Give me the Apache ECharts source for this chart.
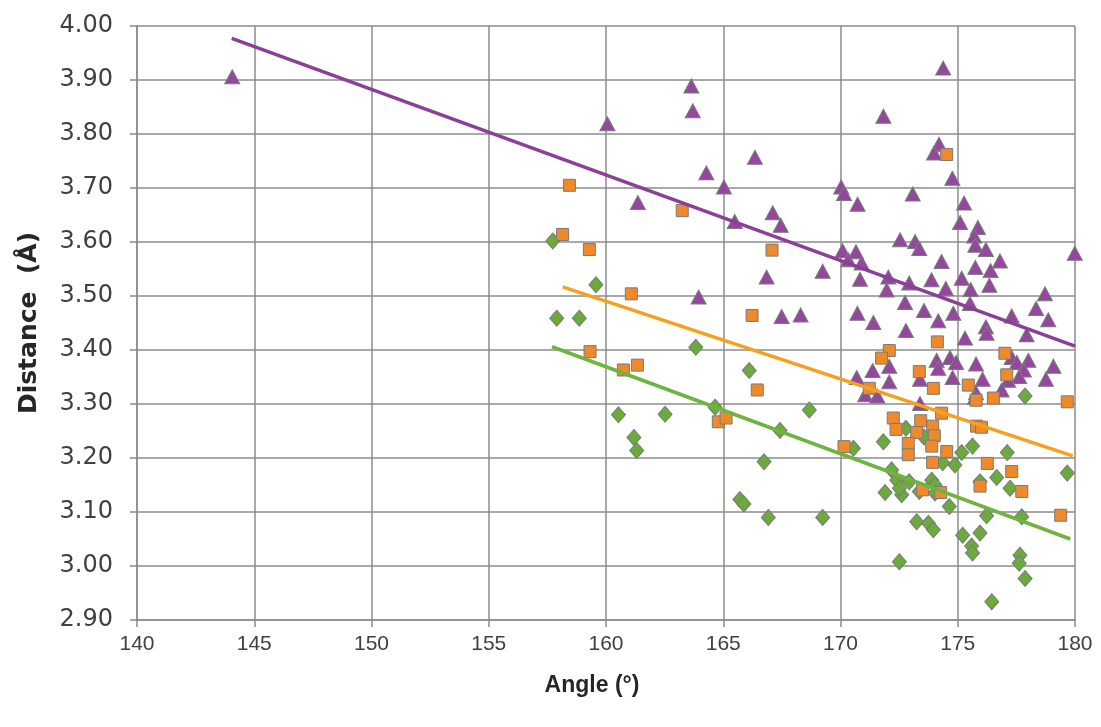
<!DOCTYPE html>
<html>
<head>
<meta charset="utf-8">
<script src="https://cdn.jsdelivr.net/npm/echarts@6/dist/echarts.min.js"></script>
<style>
  html, body { margin: 0; padding: 0; background: #fff; }
  #chart { width: 1101px; height: 727px; }
</style>
</head>
<body>
<div id="chart"></div>
<script>
// axis ranges
const xTicks = { min: 140, max: 180, step: 5 }
const yTicks = { min: 2.9, max: 4.0, step: 0.1 }

// purple triangles [angle, distance]
const triData = [
  [144.06,3.906],[160.06,3.819],[161.36,3.673],[163.64,3.889],[163.70,3.843],[163.95,3.498],
  [164.28,3.728],[165.03,3.702],[165.49,3.638],[166.35,3.757],[166.85,3.535],[167.11,3.654],
  [167.45,3.631],[167.49,3.462],[168.30,3.465],[169.24,3.546],
  [174.38,3.922],[171.83,3.833],[174.20,3.781],[173.99,3.765],[174.77,3.718],[170.03,3.702],
  [170.15,3.690],[170.73,3.670],[173.08,3.689],[175.27,3.672],[175.10,3.636],[175.86,3.627],
  [175.70,3.611],[175.75,3.594],[176.20,3.586],[176.80,3.565],[175.75,3.553],[176.40,3.547],
  [176.35,3.520],[179.99,3.579],[172.54,3.604],[173.18,3.601],[173.36,3.588],[170.09,3.584],
  [170.66,3.582],[170.33,3.567],[170.90,3.561],[170.83,3.531],[172.04,3.535],[171.97,3.511],
  [172.93,3.524],[173.88,3.530],[174.31,3.564],[174.49,3.514],[175.17,3.533],[175.55,3.512],
  [175.52,3.486],[172.75,3.488],[173.56,3.473],[170.72,3.468],[171.40,3.451],[174.17,3.454],
  [174.81,3.468],[177.30,3.463],[178.34,3.477],[178.72,3.504],[178.86,3.456],[172.79,3.436],
  [176.20,3.443],[177.94,3.428],[176.23,3.431],[175.31,3.422],[174.10,3.381],[174.67,3.386],
  [174.93,3.377],[174.17,3.366],[175.78,3.374],[177.30,3.386],[177.52,3.377],[178.01,3.381],
  [179.08,3.370],[177.82,3.363],[177.62,3.351],[177.15,3.344],[176.87,3.326],[176.06,3.346],
  [174.78,3.349],[175.78,3.321],[175.73,3.312],[173.39,3.346],[172.08,3.370],[172.08,3.341],
  [171.37,3.362],[170.69,3.349],[171.05,3.317],[171.57,3.315],[173.39,3.301],[178.76,3.346]
]

// orange squares
const sqData = [
  [158.44,3.705],[163.25,3.658],[158.15,3.614],[159.29,3.586],[167.08,3.585],[161.08,3.504],
  [166.23,3.464],[174.53,3.762],[159.32,3.397],[160.74,3.363],[161.34,3.372],[166.45,3.326],
  [164.79,3.267],[165.12,3.274],[174.13,3.415],[172.08,3.399],[171.75,3.385],[177.01,3.394],
  [173.36,3.360],[173.96,3.329],[175.45,3.335],[177.09,3.354],[176.52,3.311],[175.78,3.307],
  [179.67,3.304],[171.23,3.329],[174.31,3.283],[172.25,3.274],[172.37,3.253],[173.42,3.269],
  [173.93,3.259],[173.25,3.247],[174.00,3.241],[173.89,3.222],[172.89,3.227],[172.89,3.206],
  [174.53,3.212],[175.80,3.259],[176.01,3.257],[170.15,3.221],[173.93,3.192],[176.26,3.190],
  [177.30,3.175],[175.95,3.148],[177.73,3.138],[173.50,3.141],[174.27,3.136],[179.39,3.094]
]

// green diamonds
const dmData = [
  [157.73,3.602],[159.57,3.521],[157.90,3.459],[158.86,3.459],[163.83,3.405],[166.11,3.362],
  [168.67,3.289],[160.53,3.280],[162.52,3.281],[164.65,3.294],[167.42,3.251],[161.19,3.238],
  [161.31,3.214],[166.74,3.193],[165.71,3.123],[165.88,3.115],[166.92,3.090],
  [177.87,3.315],[179.67,3.172],[170.55,3.218],[171.83,3.230],[175.63,3.222],[175.17,3.210],
  [177.11,3.210],[174.88,3.187],[174.36,3.191],[172.79,3.255],[173.56,3.239],[172.18,3.178],
  [172.40,3.159],[172.93,3.156],[173.89,3.159],[174.03,3.150],[171.90,3.136],[172.61,3.132],
  [173.36,3.138],[174.03,3.135],[172.51,3.144],[176.66,3.164],[177.23,3.144],[175.95,3.156],
  [174.64,3.110],[176.23,3.093],[177.73,3.091],[169.24,3.090],[173.25,3.082],[173.75,3.079],
  [173.96,3.067],[175.21,3.057],[175.95,3.061],[175.59,3.037],[175.63,3.024],[177.65,3.020],
  [177.62,3.005],[177.87,2.977],[172.51,3.008],[176.45,2.934]
]

// trend lines, end points
const triTrend = [[144.04,3.977],[180.0,3.407]]
const sqTrend = [[158.15,3.517],[179.9,3.204]]
const dmTrend = [[157.7,3.406],[179.8,3.050]]

const mChart = echarts.init(document.getElementById('chart'))

const gridColor = '#8c8c8c'

// 散点系列
const scatter = (data, symbol, size, color) => ({
  type: 'scatter',
  data: data,
  symbol: symbol,
  symbolSize: size,
  itemStyle: { color: color, borderColor: '#7a7a7a', borderWidth: 1, opacity: 1 },
  silent: true,
  z: 2
})

// 趋势线
const trend = (data, color) => ({
  type: 'line',
  data: data,
  symbol: 'none',
  lineStyle: { color: color, width: 3.5 },
  silent: true,
  z: 3
})

const options = {
  animation: false,
  grid: { left: 137, right: 26, top: 26, bottom: 107 },
  xAxis: {
    type: 'value',
    min: xTicks.min,
    max: xTicks.max,
    interval: xTicks.step,
    name: 'Angle (°)',
    nameLocation: 'middle',
    nameGap: 54,
    nameTextStyle: {
      fontFamily: 'Liberation Sans', fontWeight: 'bold', fontSize: 23, color: '#262626',
      padding: [0, 28, 0, 0]
    },
    axisLine: { show: true, lineStyle: { color: gridColor, width: 1.5 } },
    axisTick: { show: true, length: 7, lineStyle: { color: gridColor, width: 1.5 } },
    axisLabel: { margin: 14, fontFamily: 'Liberation Sans', fontSize: 21, color: '#404040' },
    splitLine: { show: true, lineStyle: { color: gridColor, width: 1.5 } }
  },
  yAxis: {
    type: 'value',
    min: yTicks.min,
    max: yTicks.max,
    interval: yTicks.step,
    name: 'Distance  (Å)',
    nameLocation: 'middle',
    nameGap: 95,
    nameTextStyle: { fontFamily: 'DejaVu Sans', fontWeight: 'bold', fontSize: 25, color: '#262626' },
    axisLine: { show: true, lineStyle: { color: gridColor, width: 1.5 } },
    axisTick: { show: true, length: 7, lineStyle: { color: gridColor, width: 1.5 } },
    axisLabel: {
      margin: 24,
      fontFamily: 'DejaVu Sans',
      fontSize: 24,
      color: '#404040',
      formatter: (v) => v.toFixed(2)
    },
    splitLine: { show: true, lineStyle: { color: gridColor, width: 1.5 } }
  },
  series: [
    scatter(dmData, 'diamond', [14, 16], '#6aab3c'),
    scatter(triData, 'triangle', [15, 14], '#95479f'),
    scatter(sqData, 'rect', [12, 12], '#ee8a2c'),
    trend(triTrend, '#8a3f98'),
    trend(sqTrend, '#f4a11f'),
    trend(dmTrend, '#6fb440')
  ]
}

mChart.setOption(options)
</script>
</body>
</html>
